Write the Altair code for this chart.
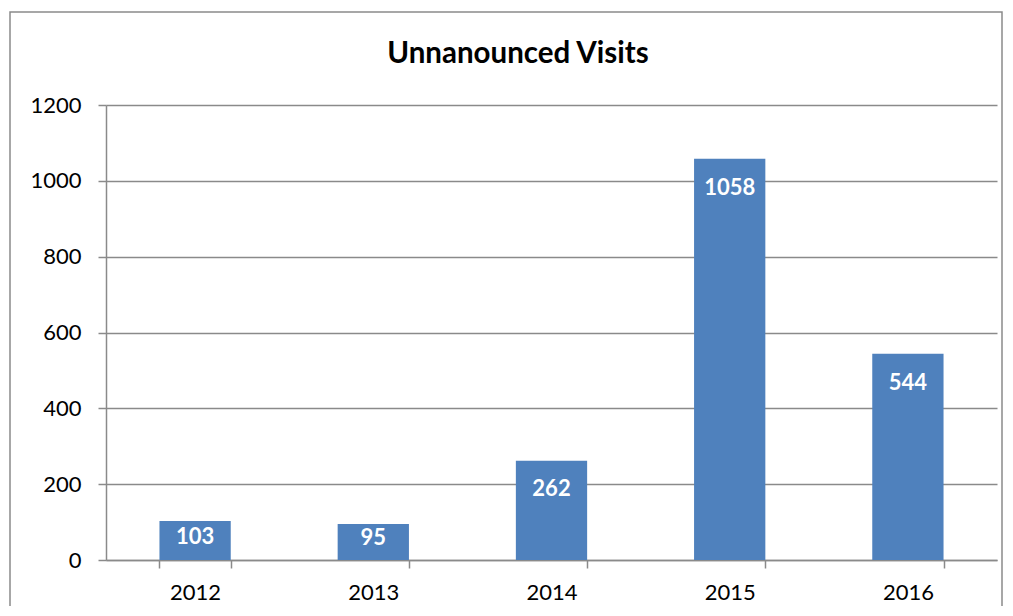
import altair as alt
import pandas as pd

years = ["2012", "2013", "2014", "2015", "2016"]
visits = [103, 95, 262, 1058, 544]
y_ticks = [0, 200, 400, 600, 800, 1000, 1200]
title_text = "Unnanounced Visits"

df = pd.DataFrame({"year": years, "visits": visits})

FONT = "Lato"
GRAY = "#8a8a8a"

base = alt.Chart(df)

x = alt.X(
    "year:N",
    sort=years,
    scale=alt.Scale(paddingInner=0.6, paddingOuter=0.3),
    axis=alt.Axis(
        title=None, labelAngle=0, tickBand="extent", tickSize=8,
        domainColor=GRAY, tickColor=GRAY, domainWidth=1.5, tickWidth=1.5,
        labelFontSize=22, labelFont=FONT, labelColor="black", labelPadding=14,
        grid=False,
    ),
)

y = alt.Y(
    "visits:Q",
    scale=alt.Scale(domain=[0, 1200], nice=False),
    axis=alt.Axis(
        title=None, values=y_ticks, format="d", tickSize=8,
        domainColor=GRAY, tickColor=GRAY, domainWidth=1.5, tickWidth=1.5,
        gridColor=GRAY, gridWidth=1.5,
        labelFontSize=22, labelFont=FONT, labelColor="black", labelPadding=17,
    ),
)

bars = base.mark_bar(color="#4F81BD").encode(x=x, y=y)

labels = base.transform_calculate(
    label_y="max(datum.visits - 76, datum.visits * 0.6)"
).mark_text(
    color="white", fontWeight="bold", fontSize=22, font=FONT, baseline="middle"
).encode(
    x=alt.X("year:N", sort=years),
    y=alt.Y("label_y:Q"),
    text=alt.Text("visits:Q"),
)

one = alt.Data(values=[{"t": title_text}])

frame = alt.Chart(one).mark_rect(
    fill=None, stroke=GRAY, strokeWidth=1.5, clip=False
).encode(
    x=alt.value(-96), x2=alt.value(896), y=alt.value(-93), y2=alt.value(520)
)

title = alt.Chart(one).mark_text(
    font=FONT, fontSize=29.5, fontWeight="bold", color="black",
    align="center", baseline="alphabetic", clip=False
).encode(
    x=alt.value(412), y=alt.value(-42), text="t:N"
)

chart = alt.layer(frame, title, bars, labels).properties(
    width=891,
    height=455,
    autosize=alt.AutoSizeParams(type="none"),
    padding={"left": 98, "top": 97, "right": 8, "bottom": 46},
    background="white",
).configure_view(stroke=None)

chart.save("out.html", embed_options={"renderer": "svg", "actions": False})
